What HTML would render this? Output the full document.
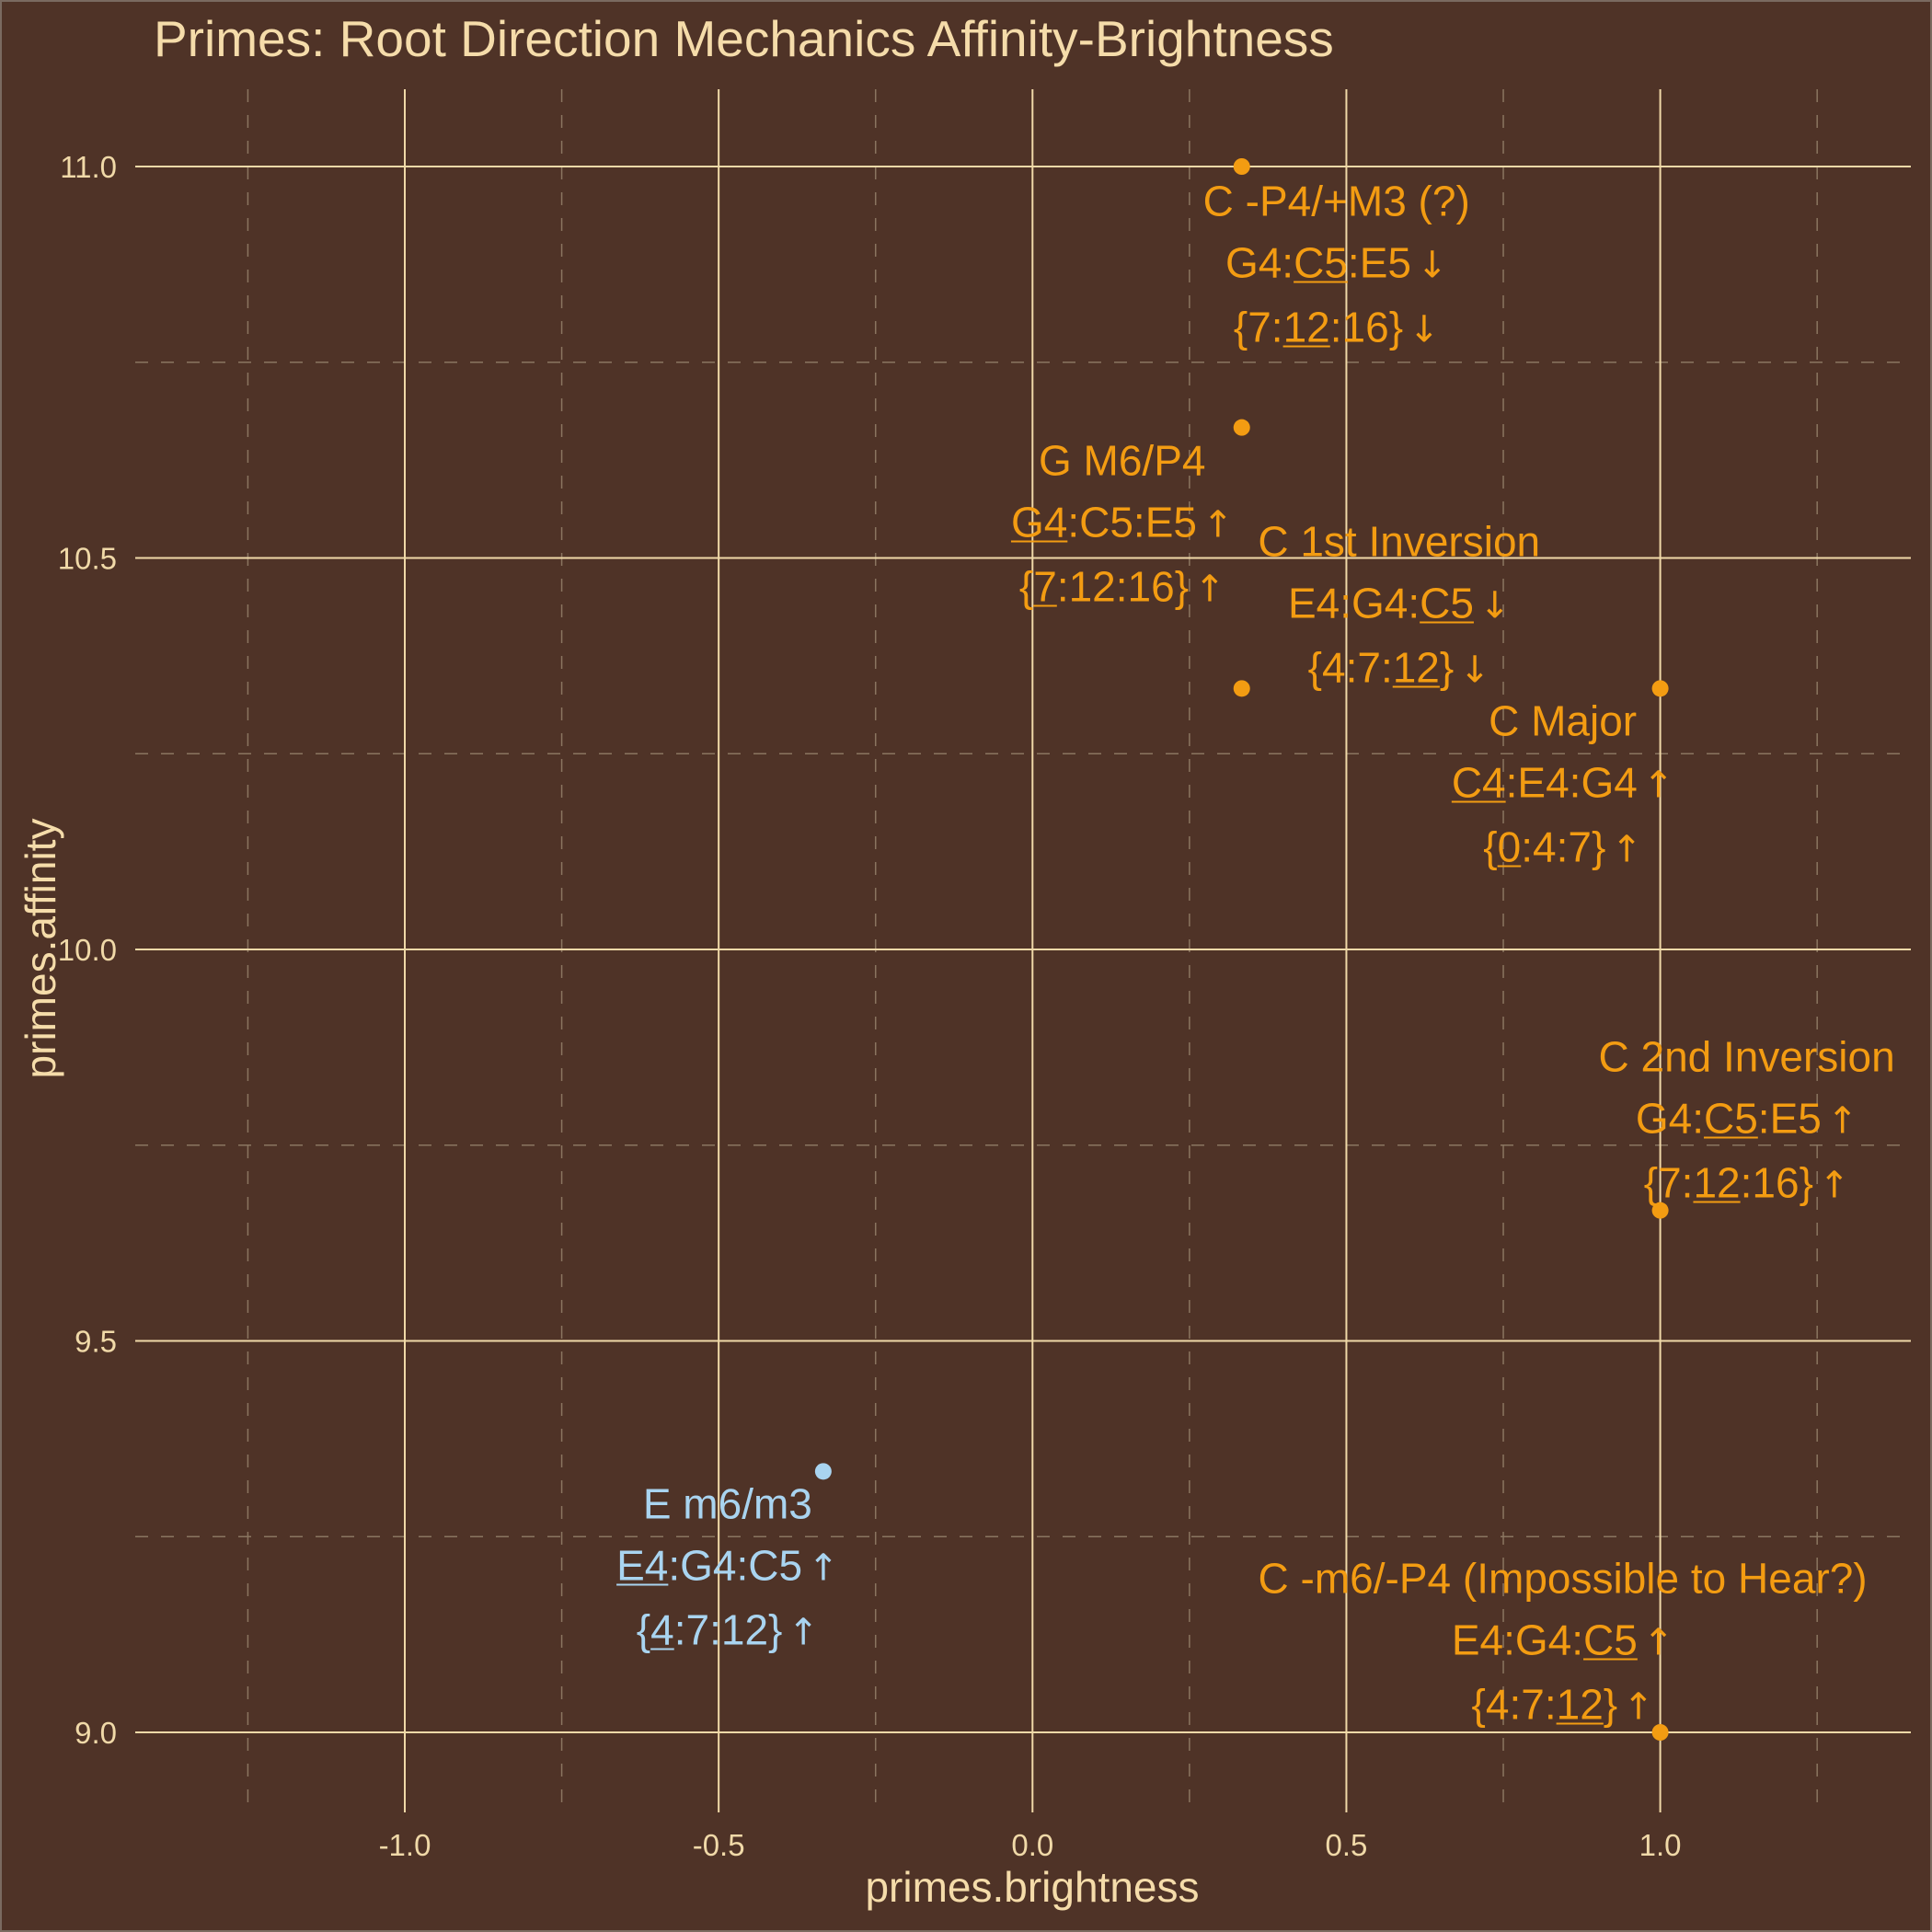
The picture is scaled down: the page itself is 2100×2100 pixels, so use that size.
<!DOCTYPE html>
<html><head><meta charset="utf-8"><style>
html,body{margin:0;padding:0;background:#4f3327;}
#wrap{position:relative;width:2100px;height:2100px;overflow:hidden;font-family:"Liberation Sans",sans-serif;}
svg{position:absolute;left:0;top:0;}
.lab{position:absolute;transform:translate(-50%,-50%);text-align:center;white-space:nowrap;font-size:46px;line-height:67px;}
.lab u{text-decoration-thickness:2px;text-underline-offset:4px;}
.lab i{font-style:normal;font-family:"DejaVu Sans",sans-serif;font-size:40px;margin-left:6px;}
</style></head><body>
<div id="wrap">
<svg id="plot" width="2100" height="2100" viewBox="0 0 2100 2100">
<rect x="1" y="1" width="2098" height="2098" fill="#4f3327" stroke="#7a6a60" stroke-width="2"/>
</svg>
</div>
<script>
const xMajor=[-1.0,-0.5,0.0,0.5,1.0];
const xMinor=[-1.25,-0.75,-0.25,0.25,0.75,1.25];
const yMajor=[9.0,9.5,10.0,10.5,11.0];
const yMinor=[9.25,9.75,10.25,10.75];
const xTickLabels=["-1.0","-0.5","0.0","0.5","1.0"];
const yTickLabels=["9.0","9.5","10.0","10.5","11.0"];
const brightness=[1/3,1/3,1/3,1,1,1,-1/3];
const affinity=[11,10.6667,10.3333,10.3333,9.6667,9,9.3333];
const names=["C -P4/+M3 (?)","G M6/P4","C 1st Inversion","C Major","C 2nd Inversion","C -m6/-P4 (Impossible to Hear?)","E m6/m3"];
const notes=["G4:<u>C5</u>:E5<i>↓</i>","<u>G4</u>:C5:E5<i>↑</i>","E4:G4:<u>C5</u><i>↓</i>","<u>C4</u>:E4:G4<i>↑</i>","G4:<u>C5</u>:E5<i>↑</i>","E4:G4:<u>C5</u><i>↑</i>","<u>E4</u>:G4:C5<i>↑</i>"];
const sets=["{7:<u>12</u>:16}<i>↓</i>","{<u>7</u>:12:16}<i>↑</i>","{4:7:<u>12</u>}<i>↓</i>","{<u>0</u>:4:7}<i>↑</i>","{7:<u>12</u>:16}<i>↑</i>","{4:7:<u>12</u>}<i>↑</i>","{<u>4</u>:7:12}<i>↑</i>"];
const groups=["orange","orange","orange","orange","orange","orange","blue"];
const offX=[103,-130,171,-106,94,-106,-104];
const offY=[108,106,-89,106,-97,-97,106];
const colors={orange:"#f39c12",blue:"#a9d4f0"};
const X=v=>1122.3+(v)*682.3;
const Y=v=>1883-(v-9)*851;
const L=147,R=2077,T=97,B=1970;
const ns="http://www.w3.org/2000/svg";
const svg=document.getElementById('plot');
const wrap=document.getElementById('wrap');
function mk(tag,attrs){const e=document.createElementNS(ns,tag);for(const k in attrs)e.setAttribute(k,attrs[k]);svg.appendChild(e);return e;}
xMinor.forEach(v=>{const e=mk('line',{x1:X(v),x2:X(v),y1:T,y2:B,stroke:'#8a7560','stroke-width':1.5,'stroke-dasharray':'14,14'});

});
yMinor.forEach(v=>{const e=mk('line',{x1:L,x2:R,y1:Y(v),y2:Y(v),stroke:'#8a7560','stroke-width':1.5,'stroke-dasharray':'14,14'});

});
xMajor.forEach((v,i)=>{const e=mk('line',{x1:X(v),x2:X(v),y1:T,y2:B,stroke:'#f0d9a8','stroke-width':2});


const t=mk('text',{x:X(v),y:2017,'text-anchor':'middle','font-size':33,fill:'#f0d9a8','font-family':'Liberation Sans, sans-serif'});t.textContent=xTickLabels[i];

});
yMajor.forEach((v,i)=>{const e=mk('line',{x1:L,x2:R,y1:Y(v),y2:Y(v),stroke:'#f0d9a8','stroke-width':2});


const t=mk('text',{x:127,y:Y(v)+12,'text-anchor':'end','font-size':33,fill:'#f0d9a8','font-family':'Liberation Sans, sans-serif'});t.textContent=yTickLabels[i];

});
brightness.forEach((b,i)=>{const c=mk('circle',{cx:X(b),cy:Y(affinity[i]),r:9,fill:colors[groups[i]]});


const d=document.createElement('div');d.className='lab';
d.style.left=(X(b)+offX[i])+'px';d.style.top=(Y(affinity[i])+offY[i])+'px';d.style.color=colors[groups[i]];
d.innerHTML=names[i]+'<br>'+notes[i]+'<br>'+sets[i];


wrap.appendChild(d);});
const title=mk('text',{x:167,y:61,'font-size':55,fill:'#f5dcaa','font-family':'Liberation Sans, sans-serif'});title.textContent='Primes: Root Direction Mechanics Affinity-Brightness';


const xt=mk('text',{x:1122,y:2067,'text-anchor':'middle','font-size':46,fill:'#f5dcaa','font-family':'Liberation Sans, sans-serif'});xt.textContent='primes.brightness';


const yt=mk('text',{x:0,y:0,'text-anchor':'middle','font-size':46,fill:'#f5dcaa','font-family':'Liberation Sans, sans-serif',transform:'translate(60,1031) rotate(-90)'});yt.textContent='primes.affinity';


</script>
</body></html>
